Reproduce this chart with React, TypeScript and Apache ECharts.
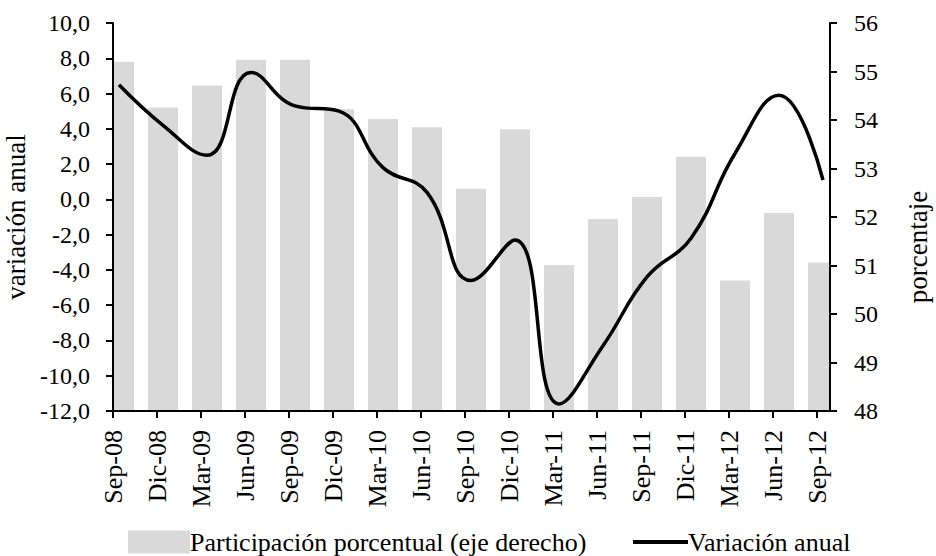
import React, { useEffect, useRef } from "react";
import * as echarts from "echarts";

const categories = [
  "Sep-08", "Dic-08", "Mar-09", "Jun-09", "Sep-09", "Dic-09", "Mar-10", "Jun-10",
  "Sep-10", "Dic-10", "Mar-11", "Jun-11", "Sep-11", "Dic-11", "Mar-12", "Jun-12", "Sep-12",
];
const participacion = [
  55.2, 54.26, 54.71, 55.24, 55.24, 54.22, 54.02, 53.85,
  52.58, 53.81, 51.01, 51.96, 52.41, 53.24, 50.69, 52.08, 51.06,
];
const variacion = [
  6.5, 4.2, 2.5, 7.2, 5.3, 5.0, 1.8, 0.4,
  -4.6, -2.3, -11.6, -8.3, -4.4, -2.2, 2.6, 5.9, 1.1,
];
const leftTicks = { min: -12, max: 10, interval: 2 };
const rightTicks = { min: 48, max: 56, interval: 1 };

const FONT = "Liberation Serif";

export default function App() {
  const ref = useRef<HTMLDivElement>(null);
  useEffect(() => {
    if (!ref.current) return;
    const chart = echarts.init(ref.current, undefined, { renderer: "svg" });
    const axisLine = { show: true, onZero: false, lineStyle: { color: "#000", width: 2 } };
    const axisTick = { show: true, inside: false, length: 7, lineStyle: { color: "#000", width: 2 } };
    const tickIdx = categories.map((_, i) => i);
    const span = 717 / 44;
    chart.setOption({
      animation: false,
      backgroundColor: "#fff",
      textStyle: { fontFamily: FONT, color: "#000" },
      grid: {
        left: 113,
        right: 106,
        top: 23,
        bottom: 145,
        containLabel: false,
        outerBoundsMode: "none",
      },
      legend: [
        {
          data: ["Participación porcentual (eje derecho)"],
          left: 128,
          top: 529,
          padding: 0,
          itemWidth: 62,
          itemHeight: 23,
          icon: "rect",
          textStyle: { fontFamily: FONT, fontSize: 26, color: "#000", padding: [0, 0, 0, -5] },
        },
        {
          data: ["Variación anual"],
          left: 633,
          top: 529,
          padding: 0,
          itemWidth: 55,
          itemHeight: 4,
          icon: "rect",
          textStyle: { fontFamily: FONT, fontSize: 26, color: "#000", padding: [0, 0, 0, -5] },
        },
      ],
      xAxis: [
        {
          type: "value",
          min: 0,
          max: span,
          position: "bottom",
          z: 5,
          axisLine,
          axisTick: { ...axisTick, customValues: tickIdx },
          axisLabel: {
            customValues: tickIdx,
            rotate: 90,
            margin: 19,
            fontFamily: FONT,
            fontSize: 26,
            color: "#000",
            formatter: (v: number) => categories[Math.round(v)] ?? "",
          },
          splitLine: { show: false },
        },
        {
          type: "value",
          min: -6 / 44,
          max: -6 / 44 + span,
          position: "bottom",
          show: false,
          splitLine: { show: false },
        },
      ],
      yAxis: [
        {
          type: "value",
          position: "left",
          z: 5,
          min: leftTicks.min,
          max: leftTicks.max,
          interval: leftTicks.interval,
          name: "variación anual",
          nameLocation: "middle",
          nameRotate: 90,
          nameGap: 67,
          nameTextStyle: { fontFamily: FONT, fontSize: 27, color: "#000" },
          axisLine,
          axisTick,
          axisLabel: {
            margin: 23,
            fontFamily: FONT,
            fontSize: 24,
            color: "#000",
            formatter: (v: number) => v.toFixed(1).replace(".", ","),
          },
          splitLine: { show: false },
        },
        {
          type: "value",
          position: "right",
          z: 5,
          min: rightTicks.min,
          max: rightTicks.max,
          interval: rightTicks.interval,
          name: "porcentaje",
          nameLocation: "middle",
          nameRotate: 90,
          nameGap: 74,
          nameTextStyle: { fontFamily: FONT, fontSize: 27, color: "#000", padding: [0, 60, 0, 0] },
          axisLine,
          axisTick,
          axisLabel: { margin: 24, fontFamily: FONT, fontSize: 24, color: "#000" },
          splitLine: { show: false },
        },
      ],
      series: [
        {
          name: "Participación porcentual (eje derecho)",
          type: "custom",
          xAxisIndex: 1,
          yAxisIndex: 1,
          itemStyle: { color: "#d9d9d9" },
          encode: { x: 0, y: 1 },
          data: participacion.map((v, i) => [i, v]),
          renderItem: (params: any, api: any) => {
            const top = api.coord([api.value(0), api.value(1)]);
            const base = api.coord([api.value(0), rightTicks.min]);
            const w = 30;
            const shape = echarts.graphic.clipRectByRect(
              { x: top[0] - w / 2, y: top[1], width: w, height: base[1] - top[1] },
              params.coordSys
            );
            if (!shape) return null;
            return { type: "rect", shape, style: { fill: "#d9d9d9" } };
          },
          z: 1,
        },
        {
          name: "Variación anual",
          type: "line",
          xAxisIndex: 1,
          yAxisIndex: 0,
          smooth: 0.45,
          symbol: "none",
          clip: true,
          lineStyle: { color: "#000", width: 3.5 },
          itemStyle: { color: "#000" },
          data: variacion.map((v, i) => [i, v]),
          z: 3,
        },
      ],
    });
    return () => chart.dispose();
  }, []);
  return (
    <div
      ref={ref}
      style={{ position: "fixed", left: 0, top: 0, width: 936, height: 556, background: "#fff" }}
    />
  );
}
